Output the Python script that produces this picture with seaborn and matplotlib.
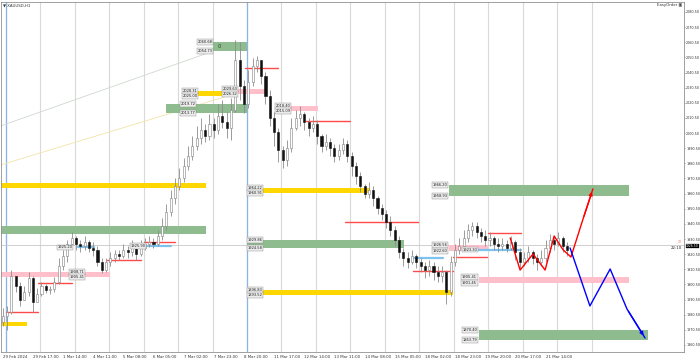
import matplotlib
matplotlib.use("Agg")
import matplotlib.pyplot as plt
import seaborn as sns
import pandas as pd
from matplotlib.patches import Rectangle

sns.set_theme(style="white")
plt.rcParams['font.family'] = ['DejaVu Sans']

# ---------------- data ----------------
first_open = 1876.0
close = [1879.7, 1882.3, 1906.1, 1899.5, 1890.2, 1895.5, 1904.8, 1888.9, 1894.2, 1899.5,
         1896.8, 1897.5, 1902.1, 1912.7, 1919.3, 1927.2, 1931.2, 1927.2, 1925.9, 1928.5,
         1924.6, 1923.3, 1915.3, 1910.0, 1915.3, 1918.0, 1920.6, 1919.3, 1923.3, 1921.9,
         1924.6, 1920.6, 1924.6, 1927.2, 1928.5, 1927.2, 1932.5, 1939.1, 1948.4, 1957.6,
         1965.5, 1970.8, 1978.8, 1985.4, 1992.0, 1997.3, 2002.5, 1998.6, 2006.5, 2002.5,
         2011.8, 2007.8, 2003.9, 2015.8, 2048.8, 2031.6, 2019.7, 2034.3, 2044.8, 2048.8,
         2038.2, 2025.0, 2010.5, 2001.2, 1989.3, 1982.7, 1990.7, 2003.9, 2010.5, 2013.1,
         2007.8, 2003.9, 2006.5, 1998.6, 1992.0, 1994.6, 1990.7, 1985.4, 1989.3, 1993.3,
         1985.4, 1978.8, 1972.2, 1965.5, 1960.3, 1962.9, 1957.6, 1951.0, 1947.0, 1941.8,
         1936.5, 1929.9, 1921.9, 1918.0, 1915.3, 1919.3, 1915.3, 1912.7, 1910.0, 1912.7,
         1908.7, 1906.1, 1908.7, 1895.5, 1915.3, 1923.3, 1925.9, 1931.2, 1936.5, 1939.1,
         1935.2, 1932.5, 1929.9, 1931.2, 1927.2, 1925.9, 1927.2, 1924.6, 1928.5, 1921.9,
         1915.3, 1918.0, 1921.9, 1918.0, 1915.3, 1918.0, 1924.6, 1929.9, 1927.2, 1931.2,
         1925.9, 1923.3]
high = [1884.9, 1886.3, 1910.0, 1904.8, 1902.1, 1899.5, 1908.7, 1906.1, 1898.2, 1902.1,
        1900.8, 1899.5, 1905.4, 1918.0, 1923.3, 1929.9, 1935.2, 1932.5, 1929.9, 1932.5,
        1929.9, 1928.5, 1925.9, 1918.0, 1918.0, 1921.9, 1923.3, 1923.3, 1927.2, 1925.9,
        1929.9, 1925.9, 1929.9, 1931.2, 1932.5, 1931.2, 1936.5, 1944.4, 1953.7, 1962.9,
        1970.8, 1977.4, 1984.0, 1992.0, 1998.6, 2005.2, 2010.5, 2006.5, 2013.1, 2010.5,
        2019.7, 2022.4, 2014.4, 2023.7, 2062.0, 2060.7, 2035.6, 2042.2, 2050.1, 2051.4,
        2048.8, 2040.9, 2029.0, 2014.4, 2003.9, 1992.0, 1995.9, 2010.5, 2015.8, 2018.4,
        2014.4, 2010.5, 2011.8, 2009.2, 1999.9, 1999.9, 1997.3, 1993.3, 1993.3, 1997.3,
        1995.9, 1988.0, 1981.4, 1974.8, 1966.9, 1968.2, 1965.5, 1958.9, 1953.7, 1949.7,
        1945.7, 1939.1, 1932.5, 1924.6, 1921.9, 1923.3, 1920.6, 1918.0, 1915.3, 1916.7,
        1915.3, 1912.7, 1912.7, 1910.0, 1919.3, 1927.2, 1931.2, 1936.5, 1940.4, 1941.8,
        1941.8, 1937.8, 1936.5, 1935.2, 1932.5, 1931.2, 1931.2, 1929.9, 1932.5, 1929.9,
        1924.6, 1921.9, 1925.9, 1923.3, 1920.6, 1923.3, 1929.9, 1933.8, 1932.5, 1935.2,
        1932.5, 1928.5]
low = [1873.0, 1870.4, 1881.0, 1895.5, 1886.3, 1890.2, 1892.9, 1882.3, 1888.9, 1892.9,
       1894.8, 1894.2, 1895.5, 1900.8, 1910.0, 1915.3, 1924.6, 1923.3, 1921.9, 1923.3,
       1921.9, 1919.3, 1912.7, 1908.1, 1908.7, 1912.7, 1915.3, 1916.7, 1918.0, 1918.0,
       1919.3, 1916.7, 1919.3, 1923.3, 1925.2, 1924.6, 1925.9, 1929.9, 1936.5, 1945.7,
       1953.7, 1962.9, 1968.2, 1976.1, 1982.7, 1989.3, 1993.3, 1994.6, 1995.9, 1997.3,
       1999.9, 2003.9, 1997.3, 1995.9, 2014.4, 2022.4, 2013.8, 2017.1, 2031.6, 2040.9,
       2032.9, 2019.7, 2005.2, 1992.0, 1981.4, 1977.4, 1978.8, 1988.0, 2002.5, 2005.2,
       2002.5, 1998.6, 2001.2, 1993.3, 1988.0, 1989.3, 1985.4, 1981.4, 1982.7, 1986.7,
       1981.4, 1972.2, 1966.9, 1961.6, 1957.6, 1957.6, 1952.3, 1947.0, 1943.1, 1937.8,
       1932.5, 1925.9, 1918.0, 1912.7, 1911.4, 1914.0, 1911.4, 1908.7, 1904.8, 1906.1,
       1903.4, 1902.1, 1902.1, 1887.6, 1892.9, 1912.7, 1920.6, 1923.3, 1928.5, 1932.5,
       1931.2, 1928.5, 1925.9, 1925.9, 1923.3, 1921.9, 1923.3, 1921.9, 1923.3, 1916.7,
       1911.4, 1912.7, 1915.3, 1914.0, 1910.0, 1912.7, 1915.3, 1921.9, 1923.3, 1925.9,
       1921.9, 1919.3]

# zones: start bar, end bar, top price, bottom price, kind
zone_start = [48.9, 42.0, 54.7, 38.0, 66.1, -0.5, -0.5, -0.5, -0.5, 56.6, 56.6, 56.6, 103.7, 103.7, 110.6, 110.6]
zone_end   = [56.6, 54.5, 61.0, 56.6, 73.3, 47.1, 47.1, 25.0, 5.6, 85.3, 93.2, 104.6, 145.4, 112.7, 145.4, 149.8]
zone_top   = [2060.68, 2028.31, 2029.63, 2019.72, 2018.40, 1967.52, 1939.11, 1908.71, 1875.68,
              1964.22, 1929.86, 1896.83, 1966.20, 1926.56, 1905.41, 1870.40]
zone_bot   = [2054.73, 2025.00, 2026.32, 2013.77, 2015.09, 1964.22, 1933.83, 1905.41, 1873.04,
              1960.91, 1924.58, 1893.52, 1958.93, 1922.60, 1901.45, 1863.79]
zone_kind  = ["supply", "level", "pivot", "supply", "pivot", "level", "supply", "pivot", "level",
              "level", "supply", "level", "supply", "pivot", "pivot", "supply"]

# short red levels
red_start = [0.7, 8.3, 24.3, 32.7, 56.3, 70.3, 79.5, 95.3, 104.6, 112.7]
red_end   = [8.3, 16.2, 32.2, 40.1, 64.0, 80.7, 96.5, 104.6, 112.5, 120.3]
red_price = [1882.3, 1901.45, 1916.65, 1928.53, 2043.5, 2008.5, 1941.8, 1909.4, 1918.6, 1934.5]

# light-blue levels
cyan_start = [17.4, 33.6, 95.3, 107.4]
cyan_end   = [21.1, 39.0, 102.3, 120.3]
cyan_price = [1925.2, 1925.9, 1918.0, 1923.3]

# projected paths
up_x = [117.8, 120.1, 123.1, 125.9, 128.0, 130.1, 131.9, 134.7, 137.0]
up_y = [1931.2, 1910.0, 1920.6, 1910.0, 1932.5, 1923.3, 1918.6, 1943.7, 1963.6]
dn_x = [131.7, 136.3, 141.0, 144.9, 149.1]
dn_y = [1924.6, 1886.3, 1910.7, 1884.3, 1865.1]

# price labels (bar, price, alignment)
lab_x = [48.7, 48.7, 41.7, 41.7, 54.5, 54.5, 103.2, 103.2, 103.2, 103.2, 110.1, 110.1, 110.1,
         110.1, 110.1, 19.0, 19.0, 16.2, 33.2, 60.3, 60.3, 60.3, 60.3, 60.3, 60.3, 66.8, 66.8, 44.8, 44.8]
lab_p = [2060.68, 2054.73, 2028.31, 2025.00, 2029.63, 2026.32, 1966.20, 1958.93, 1926.56, 1922.60,
         1923.3, 1905.41, 1901.45, 1870.40, 1863.79, 1908.71, 1905.41, 1925.2, 1925.9,
         1964.22, 1960.91, 1929.86, 1924.58, 1896.83, 1893.52, 2018.40, 2015.09, 2019.72, 2013.77]
lab_ha = ["right", "right", "left", "left", "right", "right", "right", "right", "right", "right",
          "right", "right", "right", "right", "right", "right", "right", "right", "right",
          "right", "right", "right", "right", "right", "right", "right", "right", "right", "right"]

day_sep = [0.7, 8.7, 16.7, 24.7, 32.7, 40.7, 48.7, 56.7, 64.7, 72.7, 80.7, 88.7, 96.7,
           104.7, 112.7, 120.7, 128.7, 136.7]
blue_sep = [0.7, 56.7]

x_tick_pos = [0, 7, 14, 21, 28, 35, 42, 49, 56, 63, 70, 77, 84, 91, 98, 105, 112, 119, 126]
x_tick_lab = ["29 Feb 2024", "29 Feb 17:00", "1 Mar 14:00", "4 Mar 11:00", "5 Mar 08:00",
              "6 Mar 05:00", "7 Mar 02:00", "7 Mar 23:00", "8 Mar 20:00", "11 Mar 17:00",
              "12 Mar 14:00", "13 Mar 11:00", "14 Mar 08:00", "15 Mar 05:00", "18 Mar 02:00",
              "18 Mar 23:00", "19 Mar 20:00", "20 Mar 17:00", "21 Mar 14:00"]
y_ticks = [2080.5, 2070.5, 2060.5, 2050.5, 2040.5, 2030.5, 2020.5, 2010.5, 2000.5, 1990.5,
           1980.5, 1970.5, 1960.5, 1950.5, 1940.5, 1930.5, 1920.5, 1910.5, 1900.5, 1890.5,
           1880.5, 1870.5, 1860.5]
bid = 1926.5

trend_x = [[-0.5, 48.9], [-0.5, 54.5]]
trend_y = [[2005.2, 2054.7], [1979.4, 2027.0]]

colors = {"supply": "#8fbc8f", "level": "#ffd700", "pivot": "#ffc0cb"}

# ---------------- figure ----------------
fig = plt.figure(figsize=(7.0, 3.62), dpi=100)
ax = fig.add_axes([0.001, 1 - 352 / 362, 684 / 700 - 0.001, 350 / 362])
ax.set_facecolor("white")
ax.set_xlim(-0.4638, 158.14)
ax.set_ylim(1855.86, 2087.1)

for s in day_sep:
    ax.axvline(s, color="#d9d9d9", lw=0.8, zorder=0)
for s in blue_sep:
    ax.axvline(s, color="#8ab6e6", lw=0.9, zorder=0.5)

ax.axhline(bid, color="#c8c8c8", lw=0.6, zorder=0.6)

for tx, ty, c in zip(trend_x, trend_y, ["#cfd8cf", "#f3e3a8"]):
    ax.plot(tx, ty, color=c, lw=0.6, zorder=0.7)

for s, e, t, b, k in zip(zone_start, zone_end, zone_top, zone_bot, zone_kind):
    ax.add_patch(Rectangle((s, b), e - s, t - b, facecolor=colors[k], edgecolor="none", zorder=1))

ax.text(49.9, 2058.0, "0", fontsize=3.5, color="#333", va="center", zorder=2)

for s, e, p in zip(red_start, red_end, red_price):
    ax.plot([s, e], [p, p], color="#ff4a4a", lw=1.0, zorder=2)
for s, e, p in zip(cyan_start, cyan_end, cyan_price):
    ax.plot([s, e], [p, p], color="#7ec3f0", lw=1.6, zorder=2)

# candles
opens = [first_open] + close[:-1]
for i, (o, h, l, c) in enumerate(zip(opens, high, low, close)):
    ax.vlines(i, l, h, color="#8c8c8c", lw=0.6, zorder=3)
    bull = c >= o
    ax.add_patch(Rectangle((i - 0.24, min(o, c)), 0.48, max(abs(c - o), 0.3),
                           facecolor="white" if bull else "#111111",
                           edgecolor="#808080" if bull else "#111111", lw=0.4, zorder=4))

# projected paths
df_up = pd.DataFrame({"bar": up_x, "price": up_y})
df_dn = pd.DataFrame({"bar": dn_x, "price": dn_y})
sns.lineplot(data=df_up, x="bar", y="price", ax=ax, color="#ff0000", lw=1.0, sort=False, zorder=5)
sns.lineplot(data=df_dn, x="bar", y="price", ax=ax, color="#0000ff", lw=1.0, sort=False, zorder=5)
ax.annotate("", xy=(up_x[-1], up_y[-1]), xytext=(up_x[-2], up_y[-2]),
            arrowprops=dict(arrowstyle="-|>", color="#ff0000", lw=1.0, mutation_scale=5), zorder=6)
ax.annotate("", xy=(dn_x[-1], dn_y[-1]), xytext=(dn_x[-2], dn_y[-2]),
            arrowprops=dict(arrowstyle="-|>", color="#0000ff", lw=1.0, mutation_scale=5), zorder=6)

# price labels
for x, p, ha in zip(lab_x, lab_p, lab_ha):
    ax.text(x, p, f"{p:.2f}", fontsize=2.6, ha=ha, va="center", color="#222", zorder=7,
            bbox=dict(boxstyle="square,pad=0.15", fc="#ececec", ec="#8a8a8a", lw=0.3))

# axes decoration
ax.set_xlabel("")
ax.set_ylabel("")
ax.yaxis.tick_right()
ax.set_yticks(y_ticks)
ax.set_yticklabels([f"{v:.2f}" for v in y_ticks], fontsize=2.4, color="#333")
ax.set_xticks(x_tick_pos)
ax.set_xticklabels(x_tick_lab, fontsize=2.8, color="#333", ha="left")
ax.tick_params(axis="x", length=1.5, width=0.4, pad=1, colors="#555")
ax.tick_params(axis="y", length=1.0, width=0.4, pad=0.6, colors="#555")
for lbl in ax.get_yticklabels():
    lbl.set_color("#333")
for lbl in ax.get_xticklabels():
    lbl.set_color("#333")
for sp in ax.spines.values():
    sp.set_color("#909090")
    sp.set_linewidth(0.6)
    sp.set_visible(True)

ax.text(0.003, 0.996, "\u25bc XAUUSD,H1", transform=ax.transAxes, fontsize=2.8, va="top", ha="left", color="#333")
ax.text(0.997, 0.996, "EasyOrder \u25a3", transform=ax.transAxes, fontsize=2.8, va="top", ha="right", color="#333")
ax.text(0.997, bid - 0.6, "22:10", transform=ax.get_yaxis_transform(), fontsize=2.8, va="top", ha="right", color="#222")
ax.text(0.997, bid + 0.6, "30", transform=ax.get_yaxis_transform(), fontsize=2.2, va="bottom", ha="right", color="#ff6040")
ax.text(1.003, bid - 0.8, f"{bid:.2f}", transform=ax.get_yaxis_transform(), fontsize=2.2, va="center", ha="left",
        color="white", bbox=dict(boxstyle="square,pad=0.05", fc="black", ec="black", lw=0.2))

fig.savefig("out.png", dpi=100)
